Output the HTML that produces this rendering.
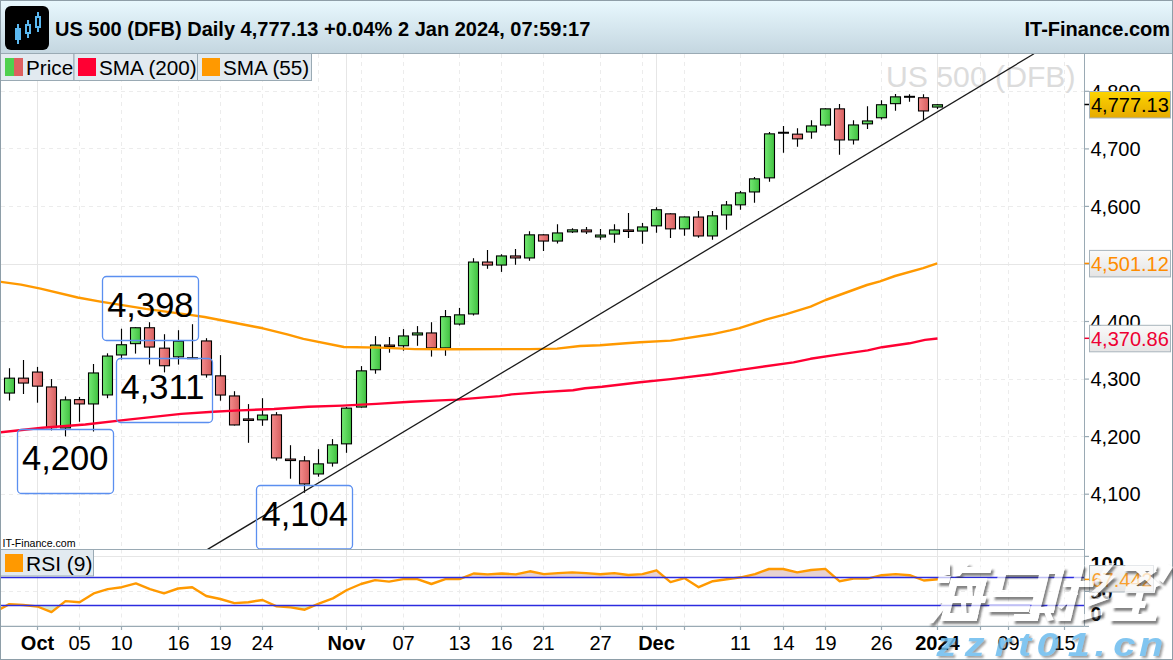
<!DOCTYPE html>
<html><head><meta charset="utf-8"><style>
html,body{margin:0;padding:0;background:#fff;width:1173px;height:660px;overflow:hidden}
svg{display:block}
text{font-family:"Liberation Sans",sans-serif}
</style></head><body>
<svg width="1173" height="660" viewBox="0 0 1173 660">
<defs>
<linearGradient id="gG" x1="0" x2="1" y1="0" y2="0"><stop offset="0" stop-color="#74ea74"/><stop offset="1" stop-color="#40c040"/></linearGradient>
<linearGradient id="gR" x1="0" x2="1" y1="0" y2="0"><stop offset="0" stop-color="#f58c8c"/><stop offset="1" stop-color="#d65f5f"/></linearGradient>
<linearGradient id="gH" x1="0" x2="0" y1="0" y2="1"><stop offset="0" stop-color="#e8f8fe"/><stop offset="1" stop-color="#c4d6e0"/></linearGradient>
<linearGradient id="gY" x1="0" x2="0" y1="0" y2="1"><stop offset="0" stop-color="#fcd400"/><stop offset="1" stop-color="#e6aa00"/></linearGradient>
<linearGradient id="gW" x1="0" x2="0" y1="0" y2="1"><stop offset="0" stop-color="#fafafa"/><stop offset="1" stop-color="#e4e4e4"/></linearGradient>
<clipPath id="cMain"><rect x="1" y="54" width="1083.5" height="495.5"/></clipPath>
<clipPath id="cRsi"><rect x="1" y="549.5" width="1083.5" height="77"/></clipPath>
<filter id="sh" x="-10%" y="-10%" width="130%" height="150%"><feDropShadow dx="2" dy="2.5" stdDeviation="1.2" flood-color="#333" flood-opacity="0.7"/></filter>
<filter id="shOnly" x="-10%" y="-10%" width="130%" height="150%"><feGaussianBlur in="SourceAlpha" stdDeviation="1.1"/><feOffset dx="2" dy="2.5" result="o"/><feFlood flood-color="#303030" flood-opacity="0.6"/><feComposite in2="o" operator="in" result="s"/><feComposite in="s" in2="SourceAlpha" operator="out"/></filter>
<filter id="sh2" x="-10%" y="-10%" width="130%" height="150%"><feDropShadow dx="2" dy="2" stdDeviation="0.8" flood-color="#444" flood-opacity="0.6"/></filter>
</defs>
<rect x="0" y="0" width="1173" height="660" fill="#fff"/>
<g clip-path="url(#cMain)">
<line x1="37.5" y1="54" x2="37.5" y2="626.4" stroke="#e6e6e6" stroke-width="1"/>
<line x1="79.5" y1="54" x2="79.5" y2="626.4" stroke="#ececec" stroke-width="1" stroke-dasharray="4 4"/>
<line x1="121.5" y1="54" x2="121.5" y2="626.4" stroke="#ececec" stroke-width="1" stroke-dasharray="4 4"/>
<line x1="178.5" y1="54" x2="178.5" y2="626.4" stroke="#ececec" stroke-width="1" stroke-dasharray="4 4"/>
<line x1="220.5" y1="54" x2="220.5" y2="626.4" stroke="#ececec" stroke-width="1" stroke-dasharray="4 4"/>
<line x1="262.5" y1="54" x2="262.5" y2="626.4" stroke="#ececec" stroke-width="1" stroke-dasharray="4 4"/>
<line x1="318.5" y1="54" x2="318.5" y2="626.4" stroke="#ececec" stroke-width="1" stroke-dasharray="4 4"/>
<line x1="346.5" y1="54" x2="346.5" y2="626.4" stroke="#e6e6e6" stroke-width="1"/>
<line x1="361.5" y1="54" x2="361.5" y2="626.4" stroke="#ececec" stroke-width="1" stroke-dasharray="4 4"/>
<line x1="403.5" y1="54" x2="403.5" y2="626.4" stroke="#ececec" stroke-width="1" stroke-dasharray="4 4"/>
<line x1="459.5" y1="54" x2="459.5" y2="626.4" stroke="#ececec" stroke-width="1" stroke-dasharray="4 4"/>
<line x1="501.5" y1="54" x2="501.5" y2="626.4" stroke="#ececec" stroke-width="1" stroke-dasharray="4 4"/>
<line x1="543.5" y1="54" x2="543.5" y2="626.4" stroke="#ececec" stroke-width="1" stroke-dasharray="4 4"/>
<line x1="600.5" y1="54" x2="600.5" y2="626.4" stroke="#ececec" stroke-width="1" stroke-dasharray="4 4"/>
<line x1="642.5" y1="54" x2="642.5" y2="626.4" stroke="#ececec" stroke-width="1" stroke-dasharray="4 4"/>
<line x1="656.5" y1="54" x2="656.5" y2="626.4" stroke="#e6e6e6" stroke-width="1"/>
<line x1="684.5" y1="54" x2="684.5" y2="626.4" stroke="#ececec" stroke-width="1" stroke-dasharray="4 4"/>
<line x1="740.5" y1="54" x2="740.5" y2="626.4" stroke="#ececec" stroke-width="1" stroke-dasharray="4 4"/>
<line x1="783.5" y1="54" x2="783.5" y2="626.4" stroke="#ececec" stroke-width="1" stroke-dasharray="4 4"/>
<line x1="825.5" y1="54" x2="825.5" y2="626.4" stroke="#ececec" stroke-width="1" stroke-dasharray="4 4"/>
<line x1="881.5" y1="54" x2="881.5" y2="626.4" stroke="#ececec" stroke-width="1" stroke-dasharray="4 4"/>
<line x1="937.5" y1="54" x2="937.5" y2="626.4" stroke="#e6e6e6" stroke-width="1"/>
<line x1="980.5" y1="54" x2="980.5" y2="626.4" stroke="#ececec" stroke-width="1" stroke-dasharray="4 4"/>
<line x1="1008.5" y1="54" x2="1008.5" y2="626.4" stroke="#ececec" stroke-width="1" stroke-dasharray="4 4"/>
<line x1="1064.5" y1="54" x2="1064.5" y2="626.4" stroke="#ececec" stroke-width="1" stroke-dasharray="4 4"/>
<line x1="1" y1="494.5" x2="1084.5" y2="494.5" stroke="#ececec" stroke-width="1" stroke-dasharray="4 4"/>
<line x1="1" y1="436.5" x2="1084.5" y2="436.5" stroke="#ececec" stroke-width="1" stroke-dasharray="4 4"/>
<line x1="1" y1="379.5" x2="1084.5" y2="379.5" stroke="#ececec" stroke-width="1" stroke-dasharray="4 4"/>
<line x1="1" y1="321.5" x2="1084.5" y2="321.5" stroke="#ececec" stroke-width="1" stroke-dasharray="4 4"/>
<line x1="1" y1="264.5" x2="1084.5" y2="264.5" stroke="#e6e6e6" stroke-width="1"/>
<line x1="1" y1="206.5" x2="1084.5" y2="206.5" stroke="#ececec" stroke-width="1" stroke-dasharray="4 4"/>
<line x1="1" y1="148.5" x2="1084.5" y2="148.5" stroke="#ececec" stroke-width="1" stroke-dasharray="4 4"/>
<line x1="1" y1="91.5" x2="1084.5" y2="91.5" stroke="#ececec" stroke-width="1" stroke-dasharray="4 4"/>
<text x="886" y="86.5" font-family="Liberation Sans" font-size="30.2" fill="#dcdcdc">US 500 (DFB)</text>
<line x1="9.5" y1="368.2" x2="9.5" y2="400.5" stroke="#000" stroke-width="1.15"/>
<rect x="4.5" y="378.15" width="10" height="14.90" fill="url(#gG)" stroke="#000" stroke-width="1.1"/>
<line x1="23.5" y1="360.0" x2="23.5" y2="394.0" stroke="#000" stroke-width="1.15"/>
<rect x="18.5" y="378.15" width="10" height="4.90" fill="url(#gR)" stroke="#000" stroke-width="1.1"/>
<line x1="37.5" y1="366.9" x2="37.5" y2="402.7" stroke="#000" stroke-width="1.15"/>
<rect x="32.5" y="372.05" width="10" height="14.10" fill="url(#gR)" stroke="#000" stroke-width="1.1"/>
<line x1="51.5" y1="379.1" x2="51.5" y2="430.4" stroke="#000" stroke-width="1.15"/>
<rect x="46.5" y="386.95" width="10" height="40.70" fill="url(#gR)" stroke="#000" stroke-width="1.1"/>
<line x1="65.5" y1="396.4" x2="65.5" y2="436.4" stroke="#000" stroke-width="1.15"/>
<rect x="60.5" y="399.85" width="10" height="28.10" fill="url(#gG)" stroke="#000" stroke-width="1.1"/>
<line x1="79.5" y1="396.9" x2="79.5" y2="421.8" stroke="#000" stroke-width="1.15"/>
<rect x="74.5" y="399.65" width="10" height="4.30" fill="url(#gR)" stroke="#000" stroke-width="1.1"/>
<line x1="93.5" y1="364.0" x2="93.5" y2="431.5" stroke="#000" stroke-width="1.15"/>
<rect x="88.5" y="372.95" width="10" height="31.00" fill="url(#gG)" stroke="#000" stroke-width="1.1"/>
<line x1="107.5" y1="353.3" x2="107.5" y2="398.2" stroke="#000" stroke-width="1.15"/>
<rect x="102.5" y="356.05" width="10" height="38.90" fill="url(#gG)" stroke="#000" stroke-width="1.1"/>
<line x1="121.5" y1="328.7" x2="121.5" y2="359.5" stroke="#000" stroke-width="1.15"/>
<rect x="116.5" y="344.75" width="10" height="10.20" fill="url(#gG)" stroke="#000" stroke-width="1.1"/>
<line x1="135.5" y1="327.2" x2="135.5" y2="353.6" stroke="#000" stroke-width="1.15"/>
<rect x="130.5" y="327.75" width="10" height="15.90" fill="url(#gG)" stroke="#000" stroke-width="1.1"/>
<line x1="149.5" y1="322.2" x2="149.5" y2="364.5" stroke="#000" stroke-width="1.15"/>
<rect x="144.5" y="327.75" width="10" height="19.30" fill="url(#gR)" stroke="#000" stroke-width="1.1"/>
<line x1="164.5" y1="334.2" x2="164.5" y2="372.4" stroke="#000" stroke-width="1.15"/>
<rect x="159.5" y="348.15" width="10" height="17.60" fill="url(#gR)" stroke="#000" stroke-width="1.1"/>
<line x1="178.5" y1="330.2" x2="178.5" y2="364.6" stroke="#000" stroke-width="1.15"/>
<rect x="173.5" y="341.15" width="10" height="15.70" fill="url(#gG)" stroke="#000" stroke-width="1.1"/>
<line x1="192.5" y1="324.2" x2="192.5" y2="358.8" stroke="#000" stroke-width="1.15"/>
<rect x="187" y="357.20" width="11" height="2" fill="#000"/>
<line x1="206.5" y1="338.2" x2="206.5" y2="377.6" stroke="#000" stroke-width="1.15"/>
<rect x="201.5" y="340.95" width="10" height="33.90" fill="url(#gR)" stroke="#000" stroke-width="1.1"/>
<line x1="220.5" y1="355.1" x2="220.5" y2="400.7" stroke="#000" stroke-width="1.15"/>
<rect x="215.5" y="375.85" width="10" height="19.20" fill="url(#gR)" stroke="#000" stroke-width="1.1"/>
<line x1="234.5" y1="391.2" x2="234.5" y2="425.5" stroke="#000" stroke-width="1.15"/>
<rect x="229.5" y="395.95" width="10" height="29.00" fill="url(#gR)" stroke="#000" stroke-width="1.1"/>
<line x1="248.5" y1="404.1" x2="248.5" y2="442.8" stroke="#000" stroke-width="1.15"/>
<rect x="243.5" y="418.95" width="10" height="1.50" fill="url(#gR)" stroke="#000" stroke-width="1.1"/>
<line x1="262.5" y1="398.2" x2="262.5" y2="425.8" stroke="#000" stroke-width="1.15"/>
<rect x="257.5" y="415.05" width="10" height="4.80" fill="url(#gG)" stroke="#000" stroke-width="1.1"/>
<line x1="276.5" y1="412.1" x2="276.5" y2="460.5" stroke="#000" stroke-width="1.15"/>
<rect x="271.5" y="414.85" width="10" height="43.10" fill="url(#gR)" stroke="#000" stroke-width="1.1"/>
<line x1="290.5" y1="445.2" x2="290.5" y2="478.7" stroke="#000" stroke-width="1.15"/>
<rect x="285.5" y="459.05" width="10" height="1.50" fill="url(#gR)" stroke="#000" stroke-width="1.1"/>
<line x1="304.5" y1="456.1" x2="304.5" y2="492.8" stroke="#000" stroke-width="1.15"/>
<rect x="299.5" y="460.85" width="10" height="23.10" fill="url(#gR)" stroke="#000" stroke-width="1.1"/>
<line x1="318.5" y1="449.2" x2="318.5" y2="476.7" stroke="#000" stroke-width="1.15"/>
<rect x="313.5" y="463.85" width="10" height="10.10" fill="url(#gG)" stroke="#000" stroke-width="1.1"/>
<line x1="332.5" y1="439.1" x2="332.5" y2="466.6" stroke="#000" stroke-width="1.15"/>
<rect x="327.5" y="444.85" width="10" height="18.20" fill="url(#gG)" stroke="#000" stroke-width="1.1"/>
<line x1="346.5" y1="407.0" x2="346.5" y2="452.8" stroke="#000" stroke-width="1.15"/>
<rect x="341.5" y="408.15" width="10" height="35.70" fill="url(#gG)" stroke="#000" stroke-width="1.1"/>
<line x1="361.5" y1="366.1" x2="361.5" y2="407.6" stroke="#000" stroke-width="1.15"/>
<rect x="356.5" y="370.85" width="10" height="36.20" fill="url(#gG)" stroke="#000" stroke-width="1.1"/>
<line x1="375.5" y1="336.1" x2="375.5" y2="373.7" stroke="#000" stroke-width="1.15"/>
<rect x="370.5" y="345.05" width="10" height="24.70" fill="url(#gG)" stroke="#000" stroke-width="1.1"/>
<line x1="389.5" y1="337.0" x2="389.5" y2="352.7" stroke="#000" stroke-width="1.15"/>
<rect x="384.5" y="345.05" width="10" height="1.50" fill="url(#gR)" stroke="#000" stroke-width="1.1"/>
<line x1="403.5" y1="329.1" x2="403.5" y2="350.7" stroke="#000" stroke-width="1.15"/>
<rect x="398.5" y="335.95" width="10" height="9.80" fill="url(#gG)" stroke="#000" stroke-width="1.1"/>
<line x1="417.5" y1="326.1" x2="417.5" y2="345.8" stroke="#000" stroke-width="1.15"/>
<rect x="412.5" y="332.95" width="10" height="2.00" fill="url(#gG)" stroke="#000" stroke-width="1.1"/>
<line x1="431.5" y1="322.2" x2="431.5" y2="356.6" stroke="#000" stroke-width="1.15"/>
<rect x="426.5" y="332.95" width="10" height="15.00" fill="url(#gR)" stroke="#000" stroke-width="1.1"/>
<line x1="445.5" y1="310.0" x2="445.5" y2="355.8" stroke="#000" stroke-width="1.15"/>
<rect x="440.5" y="316.65" width="10" height="31.30" fill="url(#gG)" stroke="#000" stroke-width="1.1"/>
<line x1="459.5" y1="307.9" x2="459.5" y2="325.5" stroke="#000" stroke-width="1.15"/>
<rect x="454.5" y="314.85" width="10" height="9.20" fill="url(#gG)" stroke="#000" stroke-width="1.1"/>
<line x1="473.5" y1="258.2" x2="473.5" y2="315.5" stroke="#000" stroke-width="1.15"/>
<rect x="468.5" y="262.05" width="10" height="51.90" fill="url(#gG)" stroke="#000" stroke-width="1.1"/>
<line x1="487.5" y1="250.1" x2="487.5" y2="268.8" stroke="#000" stroke-width="1.15"/>
<rect x="482.5" y="262.05" width="10" height="3.00" fill="url(#gR)" stroke="#000" stroke-width="1.1"/>
<line x1="501.5" y1="254.2" x2="501.5" y2="271.9" stroke="#000" stroke-width="1.15"/>
<rect x="496.5" y="255.95" width="10" height="9.10" fill="url(#gG)" stroke="#000" stroke-width="1.1"/>
<line x1="515.5" y1="249.1" x2="515.5" y2="264.8" stroke="#000" stroke-width="1.15"/>
<rect x="510.5" y="255.95" width="10" height="2.00" fill="url(#gR)" stroke="#000" stroke-width="1.1"/>
<line x1="529.5" y1="231.2" x2="529.5" y2="260.8" stroke="#000" stroke-width="1.15"/>
<rect x="524.5" y="234.85" width="10" height="23.10" fill="url(#gG)" stroke="#000" stroke-width="1.1"/>
<line x1="543.5" y1="234.3" x2="543.5" y2="250.9" stroke="#000" stroke-width="1.15"/>
<rect x="538.5" y="234.85" width="10" height="6.20" fill="url(#gR)" stroke="#000" stroke-width="1.1"/>
<line x1="557.5" y1="224.2" x2="557.5" y2="243.6" stroke="#000" stroke-width="1.15"/>
<rect x="552.5" y="232.95" width="10" height="8.10" fill="url(#gG)" stroke="#000" stroke-width="1.1"/>
<line x1="572.5" y1="228.2" x2="572.5" y2="233.0" stroke="#000" stroke-width="1.15"/>
<rect x="567.5" y="229.85" width="10" height="2.00" fill="url(#gG)" stroke="#000" stroke-width="1.1"/>
<line x1="586.5" y1="227.0" x2="586.5" y2="233.9" stroke="#000" stroke-width="1.15"/>
<rect x="581.5" y="229.95" width="10" height="1.90" fill="url(#gR)" stroke="#000" stroke-width="1.1"/>
<line x1="600.5" y1="229.0" x2="600.5" y2="239.7" stroke="#000" stroke-width="1.15"/>
<rect x="595.5" y="235.05" width="10" height="1.90" fill="url(#gG)" stroke="#000" stroke-width="1.1"/>
<line x1="614.5" y1="224.2" x2="614.5" y2="242.7" stroke="#000" stroke-width="1.15"/>
<rect x="609.5" y="229.95" width="10" height="4.10" fill="url(#gG)" stroke="#000" stroke-width="1.1"/>
<line x1="628.5" y1="213.0" x2="628.5" y2="237.9" stroke="#000" stroke-width="1.15"/>
<rect x="623.5" y="229.95" width="10" height="1.50" fill="url(#gR)" stroke="#000" stroke-width="1.1"/>
<line x1="642.5" y1="223.0" x2="642.5" y2="243.7" stroke="#000" stroke-width="1.15"/>
<rect x="637.5" y="226.95" width="10" height="4.10" fill="url(#gG)" stroke="#000" stroke-width="1.1"/>
<line x1="656.5" y1="207.2" x2="656.5" y2="232.7" stroke="#000" stroke-width="1.15"/>
<rect x="651.5" y="209.75" width="10" height="16.10" fill="url(#gG)" stroke="#000" stroke-width="1.1"/>
<line x1="670.5" y1="213.3" x2="670.5" y2="237.9" stroke="#000" stroke-width="1.15"/>
<rect x="665.5" y="213.85" width="10" height="15.00" fill="url(#gR)" stroke="#000" stroke-width="1.1"/>
<line x1="684.5" y1="216.4" x2="684.5" y2="235.8" stroke="#000" stroke-width="1.15"/>
<rect x="679.5" y="216.95" width="10" height="11.90" fill="url(#gG)" stroke="#000" stroke-width="1.1"/>
<line x1="698.5" y1="211.1" x2="698.5" y2="237.7" stroke="#000" stroke-width="1.15"/>
<rect x="693.5" y="217.05" width="10" height="18.90" fill="url(#gR)" stroke="#000" stroke-width="1.1"/>
<line x1="712.5" y1="211.1" x2="712.5" y2="239.8" stroke="#000" stroke-width="1.15"/>
<rect x="707.5" y="215.85" width="10" height="20.10" fill="url(#gG)" stroke="#000" stroke-width="1.1"/>
<line x1="726.5" y1="201.1" x2="726.5" y2="229.8" stroke="#000" stroke-width="1.15"/>
<rect x="721.5" y="204.95" width="10" height="10.00" fill="url(#gG)" stroke="#000" stroke-width="1.1"/>
<line x1="740.5" y1="191.1" x2="740.5" y2="209.8" stroke="#000" stroke-width="1.15"/>
<rect x="735.5" y="192.85" width="10" height="12.00" fill="url(#gG)" stroke="#000" stroke-width="1.1"/>
<line x1="754.5" y1="177.1" x2="754.5" y2="202.8" stroke="#000" stroke-width="1.15"/>
<rect x="749.5" y="178.85" width="10" height="13.10" fill="url(#gG)" stroke="#000" stroke-width="1.1"/>
<line x1="769.5" y1="132.1" x2="769.5" y2="181.8" stroke="#000" stroke-width="1.15"/>
<rect x="764.5" y="133.85" width="10" height="44.00" fill="url(#gG)" stroke="#000" stroke-width="1.1"/>
<line x1="783.5" y1="126.1" x2="783.5" y2="152.7" stroke="#000" stroke-width="1.15"/>
<rect x="778" y="131.75" width="11" height="2" fill="#000"/>
<line x1="797.5" y1="128.2" x2="797.5" y2="146.7" stroke="#000" stroke-width="1.15"/>
<rect x="792.5" y="134.15" width="10" height="4.70" fill="url(#gR)" stroke="#000" stroke-width="1.1"/>
<line x1="811.5" y1="120.2" x2="811.5" y2="138.7" stroke="#000" stroke-width="1.15"/>
<rect x="806.5" y="125.95" width="10" height="6.00" fill="url(#gG)" stroke="#000" stroke-width="1.1"/>
<line x1="825.5" y1="108.3" x2="825.5" y2="126.6" stroke="#000" stroke-width="1.15"/>
<rect x="820.5" y="108.85" width="10" height="16.20" fill="url(#gG)" stroke="#000" stroke-width="1.1"/>
<line x1="839.5" y1="104.0" x2="839.5" y2="154.7" stroke="#000" stroke-width="1.15"/>
<rect x="834.5" y="108.85" width="10" height="31.10" fill="url(#gR)" stroke="#000" stroke-width="1.1"/>
<line x1="853.5" y1="120.2" x2="853.5" y2="144.6" stroke="#000" stroke-width="1.15"/>
<rect x="848.5" y="124.95" width="10" height="15.00" fill="url(#gG)" stroke="#000" stroke-width="1.1"/>
<line x1="867.5" y1="106.2" x2="867.5" y2="128.9" stroke="#000" stroke-width="1.15"/>
<rect x="862.5" y="120.95" width="10" height="2.90" fill="url(#gG)" stroke="#000" stroke-width="1.1"/>
<line x1="881.5" y1="100.2" x2="881.5" y2="119.5" stroke="#000" stroke-width="1.15"/>
<rect x="876.5" y="104.75" width="10" height="13.00" fill="url(#gG)" stroke="#000" stroke-width="1.1"/>
<line x1="895.5" y1="94.1" x2="895.5" y2="110.8" stroke="#000" stroke-width="1.15"/>
<rect x="890.5" y="96.85" width="10" height="6.80" fill="url(#gG)" stroke="#000" stroke-width="1.1"/>
<line x1="909.5" y1="94.3" x2="909.5" y2="101.8" stroke="#000" stroke-width="1.15"/>
<rect x="904" y="95.80" width="11" height="2" fill="#000"/>
<line x1="923.5" y1="94.3" x2="923.5" y2="120.2" stroke="#000" stroke-width="1.15"/>
<rect x="918.5" y="97.75" width="10" height="13.20" fill="url(#gR)" stroke="#000" stroke-width="1.1"/>
<line x1="937.5" y1="104.2" x2="937.5" y2="109.1" stroke="#000" stroke-width="1.15"/>
<rect x="932.5" y="104.75" width="10" height="2.30" fill="url(#gG)" stroke="#000" stroke-width="1.1"/>
<polyline points="0.0,281.7 21.0,284.6 40.5,288.6 77.7,297.5 100.4,301.6 145.8,308.9 175.0,312.9 190.0,314.9 204.6,317.0 254.8,326.7 262.9,328.3 287.2,334.3 303.4,338.9 343.9,347.0 380.0,347.6 415.0,349.1 450.0,349.2 530.0,349.1 557.0,348.6 580.0,346.0 600.0,345.3 626.0,343.2 640.0,342.3 670.7,340.6 711.6,334.3 730.0,330.4 739.4,328.1 767.5,319.1 786.3,314.1 810.6,306.6 825.6,300.0 866.9,285.0 880.0,281.3 895.0,276.0 923.2,268.1 937.2,263.4" fill="none" stroke="#ff9900" stroke-width="2.4" stroke-linejoin="round"/>
<polyline points="0.0,432.4 42.6,427.7 85.3,424.5 127.9,419.6 181.2,413.9 213.1,411.7 240.0,410.4 274.0,409.0 308.0,406.8 342.3,405.6 376.4,403.9 410.5,401.7 440.0,400.4 457.0,399.6 499.7,396.1 511.6,394.4 542.3,392.1 573.0,390.3 585.0,388.3 602.0,386.8 619.0,384.7 640.0,382.2 670.7,379.1 711.6,374.3 742.3,369.6 793.5,362.4 810.5,358.8 837.9,354.6 867.7,350.4 882.0,347.2 909.5,343.3 925.0,339.9 937.5,338.5" fill="none" stroke="#ff0033" stroke-width="2.4" stroke-linejoin="round"/>
<line x1="207.6" y1="549.4" x2="1034" y2="53.8" stroke="#1a1a1a" stroke-width="1.3"/>
<rect x="102.5" y="276.5" width="96.0" height="64.0" rx="4" fill="none" stroke="#5b8ff0" stroke-width="1.3"/>
<text x="107.2" y="316.5" font-family="Liberation Sans" font-size="34.5" fill="#000">4,398</text>
<rect x="116.5" y="358.5" width="96.0" height="64.0" rx="4" fill="none" stroke="#5b8ff0" stroke-width="1.3"/>
<text x="120.6" y="398.8" font-family="Liberation Sans" font-size="34.5" fill="#000">4,311</text>
<rect x="17.5" y="429.5" width="96.0" height="64.0" rx="4" fill="none" stroke="#5b8ff0" stroke-width="1.3"/>
<text x="22" y="470" font-family="Liberation Sans" font-size="34.5" fill="#000">4,200</text>
<rect x="256.5" y="485.5" width="96.0" height="63.5" rx="4" fill="none" stroke="#5b8ff0" stroke-width="1.3"/>
<text x="261.5" y="526" font-family="Liberation Sans" font-size="34.5" fill="#000">4,104</text>
</g>
<g clip-path="url(#cRsi)">
<line x1="37.5" y1="549.5" x2="37.5" y2="626.4" stroke="#e6e6e6" stroke-width="1"/>
<line x1="79.5" y1="549.5" x2="79.5" y2="626.4" stroke="#ececec" stroke-width="1" stroke-dasharray="4 4"/>
<line x1="121.5" y1="549.5" x2="121.5" y2="626.4" stroke="#ececec" stroke-width="1" stroke-dasharray="4 4"/>
<line x1="178.5" y1="549.5" x2="178.5" y2="626.4" stroke="#ececec" stroke-width="1" stroke-dasharray="4 4"/>
<line x1="220.5" y1="549.5" x2="220.5" y2="626.4" stroke="#ececec" stroke-width="1" stroke-dasharray="4 4"/>
<line x1="262.5" y1="549.5" x2="262.5" y2="626.4" stroke="#ececec" stroke-width="1" stroke-dasharray="4 4"/>
<line x1="318.5" y1="549.5" x2="318.5" y2="626.4" stroke="#ececec" stroke-width="1" stroke-dasharray="4 4"/>
<line x1="346.5" y1="549.5" x2="346.5" y2="626.4" stroke="#e6e6e6" stroke-width="1"/>
<line x1="361.5" y1="549.5" x2="361.5" y2="626.4" stroke="#ececec" stroke-width="1" stroke-dasharray="4 4"/>
<line x1="403.5" y1="549.5" x2="403.5" y2="626.4" stroke="#ececec" stroke-width="1" stroke-dasharray="4 4"/>
<line x1="459.5" y1="549.5" x2="459.5" y2="626.4" stroke="#ececec" stroke-width="1" stroke-dasharray="4 4"/>
<line x1="501.5" y1="549.5" x2="501.5" y2="626.4" stroke="#ececec" stroke-width="1" stroke-dasharray="4 4"/>
<line x1="543.5" y1="549.5" x2="543.5" y2="626.4" stroke="#ececec" stroke-width="1" stroke-dasharray="4 4"/>
<line x1="600.5" y1="549.5" x2="600.5" y2="626.4" stroke="#ececec" stroke-width="1" stroke-dasharray="4 4"/>
<line x1="642.5" y1="549.5" x2="642.5" y2="626.4" stroke="#ececec" stroke-width="1" stroke-dasharray="4 4"/>
<line x1="656.5" y1="549.5" x2="656.5" y2="626.4" stroke="#e6e6e6" stroke-width="1"/>
<line x1="684.5" y1="549.5" x2="684.5" y2="626.4" stroke="#ececec" stroke-width="1" stroke-dasharray="4 4"/>
<line x1="740.5" y1="549.5" x2="740.5" y2="626.4" stroke="#ececec" stroke-width="1" stroke-dasharray="4 4"/>
<line x1="783.5" y1="549.5" x2="783.5" y2="626.4" stroke="#ececec" stroke-width="1" stroke-dasharray="4 4"/>
<line x1="825.5" y1="549.5" x2="825.5" y2="626.4" stroke="#ececec" stroke-width="1" stroke-dasharray="4 4"/>
<line x1="881.5" y1="549.5" x2="881.5" y2="626.4" stroke="#ececec" stroke-width="1" stroke-dasharray="4 4"/>
<line x1="937.5" y1="549.5" x2="937.5" y2="626.4" stroke="#e6e6e6" stroke-width="1"/>
<line x1="980.5" y1="549.5" x2="980.5" y2="626.4" stroke="#ececec" stroke-width="1" stroke-dasharray="4 4"/>
<line x1="1008.5" y1="549.5" x2="1008.5" y2="626.4" stroke="#ececec" stroke-width="1" stroke-dasharray="4 4"/>
<line x1="1064.5" y1="549.5" x2="1064.5" y2="626.4" stroke="#ececec" stroke-width="1" stroke-dasharray="4 4"/>
<line x1="1" y1="556.5" x2="1084.5" y2="556.5" stroke="#e6e6e6" stroke-width="1"/>
<line x1="1" y1="591.5" x2="1084.5" y2="591.5" stroke="#ececec" stroke-width="1" stroke-dasharray="4 4"/>
<polygon points="463.8,577.4 473.6,573.5 487.6,574.4 501.7,573.5 515.8,574.4 529.9,571.3 543.9,574.1 558.0,573.1 572.1,572.4 586.1,573.1 600.2,574.3 614.3,573.1 628.3,575.0 642.4,574.1 656.5,570.3 664.9,577.4" fill="#e6d2d2"/>
<polygon points="740.2,577.4 740.9,577.3 755.0,574.1 769.0,569.0 783.1,569.0 797.2,572.4 811.2,570.0 825.3,568.9 835.0,577.4" fill="#e6d2d2"/>
<polygon points="872.5,577.4 881.6,575.2 895.7,574.1 909.7,575.2 915.6,577.4" fill="#e6d2d2"/>
<polygon points="0.0,609.1 6.9,605.4" fill="#d4ead8"/>
<polygon points="27.1,605.4 37.4,606.5 51.5,612.1 60.0,605.4" fill="#d4ead8"/>
<polygon points="274.6,605.4 276.6,606.3 290.7,607.4 304.7,609.7 314.8,605.4" fill="#d4ead8"/>
<polyline points="0.0,609.1 9.3,604.1 23.3,605.0 37.4,606.5 51.5,612.1 65.5,601.1 79.6,602.2 93.7,593.4 107.8,589.1 121.8,587.2 135.9,583.4 150.0,589.1 164.0,593.4 178.1,588.5 192.2,587.2 206.2,596.0 220.3,599.0 234.4,603.1 248.4,602.2 262.5,600.0 276.6,606.3 290.7,607.4 304.7,609.7 318.8,603.7 332.9,598.4 346.9,590.0 361.0,584.0 375.1,580.1 389.1,581.6 403.2,579.1 417.3,579.1 431.4,584.0 445.4,579.1 459.5,579.1 473.6,573.5 487.6,574.4 501.7,573.5 515.8,574.4 529.9,571.3 543.9,574.1 558.0,573.1 572.1,572.4 586.1,573.1 600.2,574.3 614.3,573.1 628.3,575.0 642.4,574.1 656.5,570.3 670.5,582.1 684.6,578.2 698.7,587.2 712.8,581.2 726.8,579.3 740.9,577.3 755.0,574.1 769.0,569.0 783.1,569.0 797.2,572.4 811.2,570.0 825.3,568.9 839.4,581.2 853.5,578.6 867.5,578.6 881.6,575.2 895.7,574.1 909.7,575.2 923.8,580.5 937.9,579.3" fill="none" stroke="#ff9900" stroke-width="2.4" stroke-linejoin="round"/>
<line x1="1" y1="577.5" x2="1084.5" y2="577.5" stroke="#2c2ce0" stroke-width="1.3"/>
<line x1="1" y1="605.5" x2="1084.5" y2="605.5" stroke="#2c2ce0" stroke-width="1.3"/>
</g>
<line x1="1084.5" y1="54" x2="1084.5" y2="626.4" stroke="#9aaab4" stroke-width="1"/>
<line x1="1" y1="549.5" x2="1084.5" y2="549.5" stroke="#9aaab4" stroke-width="1"/>
<line x1="1" y1="626.4" x2="1084.5" y2="626.4" stroke="#9aaab4" stroke-width="1.2"/>
<line x1="1084.5" y1="494.2" x2="1089" y2="494.2" stroke="#9aaab4" stroke-width="1.2"/>
<text x="1090.5" y="501.4" font-family="Liberation Sans" font-size="20" fill="#000">4,100</text>
<line x1="1084.5" y1="436.6" x2="1089" y2="436.6" stroke="#9aaab4" stroke-width="1.2"/>
<text x="1090.5" y="443.8" font-family="Liberation Sans" font-size="20" fill="#000">4,200</text>
<line x1="1084.5" y1="379.1" x2="1089" y2="379.1" stroke="#9aaab4" stroke-width="1.2"/>
<text x="1090.5" y="386.3" font-family="Liberation Sans" font-size="20" fill="#000">4,300</text>
<line x1="1084.5" y1="321.5" x2="1089" y2="321.5" stroke="#9aaab4" stroke-width="1.2"/>
<text x="1090.5" y="328.7" font-family="Liberation Sans" font-size="20" fill="#000">4,400</text>
<line x1="1084.5" y1="264.0" x2="1089" y2="264.0" stroke="#9aaab4" stroke-width="1.2"/>
<text x="1090.5" y="271.2" font-family="Liberation Sans" font-size="20" fill="#000">4,500</text>
<line x1="1084.5" y1="206.4" x2="1089" y2="206.4" stroke="#9aaab4" stroke-width="1.2"/>
<text x="1090.5" y="213.6" font-family="Liberation Sans" font-size="20" fill="#000">4,600</text>
<line x1="1084.5" y1="148.9" x2="1089" y2="148.9" stroke="#9aaab4" stroke-width="1.2"/>
<text x="1090.5" y="156.1" font-family="Liberation Sans" font-size="20" fill="#000">4,700</text>
<line x1="1084.5" y1="91.3" x2="1089" y2="91.3" stroke="#9aaab4" stroke-width="1.2"/>
<text x="1090.5" y="98.5" font-family="Liberation Sans" font-size="20" fill="#000">4,800</text>
<line x1="1084.5" y1="556.4" x2="1089" y2="556.4" stroke="#9aaab4" stroke-width="1.2"/>
<text x="1090.5" y="571.2" font-family="Liberation Sans" font-size="20" font-weight="bold" fill="#000">100</text>
<line x1="1084.5" y1="591.4" x2="1089" y2="591.4" stroke="#9aaab4" stroke-width="1.2"/>
<text x="1090.5" y="598.5" font-family="Liberation Sans" font-size="20" font-weight="bold" fill="#000">50</text>
<line x1="1084.5" y1="626.4" x2="1089" y2="626.4" stroke="#9aaab4" stroke-width="1.2"/>
<text x="1090.5" y="621.3" font-family="Liberation Sans" font-size="20" font-weight="bold" fill="#000">0</text>
<line x1="37.5" y1="626.4" x2="37.5" y2="630" stroke="#9aaab4" stroke-width="1.2"/>
<text x="37.5" y="649.8" text-anchor="middle" font-family="Liberation Sans" font-size="20" font-weight="bold" fill="#000">Oct</text>
<line x1="79.5" y1="626.4" x2="79.5" y2="630" stroke="#9aaab4" stroke-width="1.2"/>
<text x="79.5" y="649.8" text-anchor="middle" font-family="Liberation Sans" font-size="20" fill="#000">05</text>
<line x1="121.5" y1="626.4" x2="121.5" y2="630" stroke="#9aaab4" stroke-width="1.2"/>
<text x="121.5" y="649.8" text-anchor="middle" font-family="Liberation Sans" font-size="20" fill="#000">10</text>
<line x1="178.5" y1="626.4" x2="178.5" y2="630" stroke="#9aaab4" stroke-width="1.2"/>
<text x="178.5" y="649.8" text-anchor="middle" font-family="Liberation Sans" font-size="20" fill="#000">16</text>
<line x1="220.5" y1="626.4" x2="220.5" y2="630" stroke="#9aaab4" stroke-width="1.2"/>
<text x="220.5" y="649.8" text-anchor="middle" font-family="Liberation Sans" font-size="20" fill="#000">19</text>
<line x1="262.5" y1="626.4" x2="262.5" y2="630" stroke="#9aaab4" stroke-width="1.2"/>
<text x="262.5" y="649.8" text-anchor="middle" font-family="Liberation Sans" font-size="20" fill="#000">24</text>
<line x1="318.5" y1="626.4" x2="318.5" y2="630" stroke="#9aaab4" stroke-width="1.2"/>
<line x1="346.5" y1="626.4" x2="346.5" y2="630" stroke="#9aaab4" stroke-width="1.2"/>
<text x="346.5" y="649.8" text-anchor="middle" font-family="Liberation Sans" font-size="20" font-weight="bold" fill="#000">Nov</text>
<line x1="361.5" y1="626.4" x2="361.5" y2="630" stroke="#9aaab4" stroke-width="1.2"/>
<line x1="403.5" y1="626.4" x2="403.5" y2="630" stroke="#9aaab4" stroke-width="1.2"/>
<text x="403.5" y="649.8" text-anchor="middle" font-family="Liberation Sans" font-size="20" fill="#000">07</text>
<line x1="459.5" y1="626.4" x2="459.5" y2="630" stroke="#9aaab4" stroke-width="1.2"/>
<text x="459.5" y="649.8" text-anchor="middle" font-family="Liberation Sans" font-size="20" fill="#000">13</text>
<line x1="501.5" y1="626.4" x2="501.5" y2="630" stroke="#9aaab4" stroke-width="1.2"/>
<text x="501.5" y="649.8" text-anchor="middle" font-family="Liberation Sans" font-size="20" fill="#000">16</text>
<line x1="543.5" y1="626.4" x2="543.5" y2="630" stroke="#9aaab4" stroke-width="1.2"/>
<text x="543.5" y="649.8" text-anchor="middle" font-family="Liberation Sans" font-size="20" fill="#000">21</text>
<line x1="600.5" y1="626.4" x2="600.5" y2="630" stroke="#9aaab4" stroke-width="1.2"/>
<text x="600.5" y="649.8" text-anchor="middle" font-family="Liberation Sans" font-size="20" fill="#000">27</text>
<line x1="642.5" y1="626.4" x2="642.5" y2="630" stroke="#9aaab4" stroke-width="1.2"/>
<line x1="656.5" y1="626.4" x2="656.5" y2="630" stroke="#9aaab4" stroke-width="1.2"/>
<text x="656.5" y="649.8" text-anchor="middle" font-family="Liberation Sans" font-size="20" font-weight="bold" fill="#000">Dec</text>
<line x1="684.5" y1="626.4" x2="684.5" y2="630" stroke="#9aaab4" stroke-width="1.2"/>
<line x1="740.5" y1="626.4" x2="740.5" y2="630" stroke="#9aaab4" stroke-width="1.2"/>
<text x="740.5" y="649.8" text-anchor="middle" font-family="Liberation Sans" font-size="20" fill="#000">11</text>
<line x1="783.5" y1="626.4" x2="783.5" y2="630" stroke="#9aaab4" stroke-width="1.2"/>
<text x="783.5" y="649.8" text-anchor="middle" font-family="Liberation Sans" font-size="20" fill="#000">14</text>
<line x1="825.5" y1="626.4" x2="825.5" y2="630" stroke="#9aaab4" stroke-width="1.2"/>
<text x="825.5" y="649.8" text-anchor="middle" font-family="Liberation Sans" font-size="20" fill="#000">19</text>
<line x1="881.5" y1="626.4" x2="881.5" y2="630" stroke="#9aaab4" stroke-width="1.2"/>
<text x="881.5" y="649.8" text-anchor="middle" font-family="Liberation Sans" font-size="20" fill="#000">26</text>
<line x1="937.5" y1="626.4" x2="937.5" y2="630" stroke="#9aaab4" stroke-width="1.2"/>
<text x="937.5" y="649.8" text-anchor="middle" font-family="Liberation Sans" font-size="20" font-weight="bold" fill="#000">2024</text>
<line x1="980.5" y1="626.4" x2="980.5" y2="630" stroke="#9aaab4" stroke-width="1.2"/>
<line x1="1008.5" y1="626.4" x2="1008.5" y2="630" stroke="#9aaab4" stroke-width="1.2"/>
<text x="1008.5" y="649.8" text-anchor="middle" font-family="Liberation Sans" font-size="20" fill="#000">09</text>
<line x1="1064.5" y1="626.4" x2="1064.5" y2="630" stroke="#9aaab4" stroke-width="1.2"/>
<text x="1064.5" y="649.8" text-anchor="middle" font-family="Liberation Sans" font-size="20" fill="#000">15</text>
<line x1="1084.5" y1="104.5" x2="1089" y2="104.5" stroke="#000" stroke-width="1.5"/>
<rect x="1089.5" y="91.5" width="81" height="26.5" fill="url(#gY)" stroke="#a8b4bc" stroke-width="1"/>
<text x="1091" y="111.8" font-family="Liberation Sans" font-size="20" fill="#000">4,777.13</text>
<line x1="1084.5" y1="263.4" x2="1089" y2="263.4" stroke="#ff8c00" stroke-width="1.5"/>
<rect x="1089.5" y="250.4" width="81" height="26.5" fill="url(#gW)" stroke="#a8b4bc" stroke-width="1"/>
<text x="1091" y="270.7" font-family="Liberation Sans" font-size="20" fill="#ff8c00">4,501.12</text>
<line x1="1084.5" y1="338.3" x2="1089" y2="338.3" stroke="#ee0033" stroke-width="1.5"/>
<rect x="1089.5" y="325.3" width="81" height="26.5" fill="url(#gW)" stroke="#a8b4bc" stroke-width="1"/>
<text x="1091" y="345.6" font-family="Liberation Sans" font-size="20" fill="#ee0033">4,370.86</text>
<line x1="1084.5" y1="579.4" x2="1089" y2="579.4" stroke="#ff9900" stroke-width="1.5"/>
<rect x="1089.5" y="565.5" width="64" height="26.5" fill="url(#gW)" stroke="#a8b4bc" stroke-width="1"/>
<text x="1091.5" y="587" font-family="Liberation Sans" font-size="20" fill="#f8a030">67.442</text>
<rect x="0.5" y="0.5" width="1172" height="53" fill="url(#gH)" stroke="#9aaab4" stroke-width="1"/>
<rect x="5" y="6" width="44" height="44" rx="6" fill="#000"/>
<g fill="#5bb8f0"><rect x="17" y="24" width="2" height="20"/><rect x="15" y="28" width="6" height="12"/><rect x="27" y="20" width="2" height="4"/><rect x="27" y="34" width="2" height="4"/><rect x="37" y="12" width="2" height="4"/><rect x="37" y="28" width="2" height="4"/></g><rect x="26" y="25" width="4" height="8" fill="none" stroke="#5bb8f0" stroke-width="2"/><rect x="36" y="17" width="4" height="10" fill="none" stroke="#5bb8f0" stroke-width="2"/>
<text x="55" y="35.6" font-family="Liberation Sans" font-size="20" font-weight="bold" fill="#000">US 500 (DFB) Daily 4,777.13 +0.04% 2 Jan 2024, 07:59:17</text>
<text x="1024.5" y="35.7" font-family="Liberation Sans" font-size="20" font-weight="bold" fill="#000">IT-Finance.com</text>
<rect x="0.5" y="53.5" width="73.5" height="27" fill="#e2eaf0" stroke="#9aaab4" stroke-width="1"/>
<rect x="74" y="53.5" width="123.5" height="27" fill="#e2eaf0" stroke="#9aaab4" stroke-width="1"/>
<rect x="197.5" y="53.5" width="114" height="27" fill="#e2eaf0" stroke="#9aaab4" stroke-width="1"/>
<rect x="5" y="58" width="9" height="18" fill="#4fd04f"/><rect x="14" y="58" width="9" height="18" fill="#de6060"/>
<text x="26" y="75" font-family="Liberation Sans" font-size="20.7" fill="#000">Price</text>
<rect x="78" y="58" width="18" height="18" fill="#ff0033"/>
<text x="99" y="75" font-family="Liberation Sans" font-size="20.7" fill="#000">SMA (200)</text>
<rect x="202" y="58" width="18" height="18" fill="#ff9900"/>
<text x="223" y="75" font-family="Liberation Sans" font-size="20.7" fill="#000">SMA (55)</text>
<text x="2.5" y="546.7" font-family="Liberation Sans" font-size="10.6" fill="#000">IT-Finance.com</text>
<rect x="0.5" y="549.5" width="93" height="26.5" fill="#e2eaf0" stroke="#9aaab4" stroke-width="1"/>
<rect x="5" y="554" width="18" height="18" fill="#ff9900"/>
<text x="26" y="571" font-family="Liberation Sans" font-size="21" fill="#000">RSI (9)</text>
<rect x="0.5" y="0.5" width="1172" height="659" fill="none" stroke="#8e9ea8" stroke-width="1"/>
<g filter="url(#shOnly)" fill="#fff">
<g transform="translate(943.0,563) skewX(-14)">
<rect x="-1" y="13" width="12" height="7"/>
<rect x="16" y="4" width="34" height="6"/>
<rect x="12" y="15" width="7.5" height="43"/>
<rect x="39" y="15" width="9" height="43"/>
<rect x="12" y="15" width="36" height="8"/>
<rect x="6" y="33" width="46" height="7"/>
<rect x="12" y="50" width="36" height="8"/>
<polygon points="1,0 7,0 10,12 4,12"/>
<polygon points="0,60 5,60 16,40 11,37"/>
<polygon points="20,0 27,0 20,13 13,13"/>
<polygon points="30,23 35,23 38,33 33,33"/>
<polygon points="28,40 33,40 36,50 31,50"/>
</g>
<g transform="translate(1000.0,563) skewX(-14)">
<rect x="3" y="4" width="47" height="8"/>
<rect x="1" y="4" width="8" height="30"/>
<rect x="1" y="27" width="49" height="7"/>
<rect x="43" y="4" width="9" height="54"/>
<rect x="0" y="42" width="41" height="7"/>
<rect x="27" y="51" width="25" height="7"/>
</g>
<g transform="translate(1043.0,563) skewX(-14)">
<rect x="-1" y="4" width="24" height="7"/>
<rect x="-1" y="4" width="8.5" height="46"/>
<rect x="15" y="4" width="8" height="46"/>
<rect x="-1" y="44" width="24" height="6"/>
<rect x="26" y="18" width="30" height="6"/>
<rect x="34.5" y="2" width="7.5" height="50"/>
<rect x="28" y="51" width="14" height="7"/>
<polygon points="1,50 7,50 0,58 -6,58"/>
<polygon points="14,50 20,50 25,57 19,58"/>
<polygon points="37,27 43,31 30,46 25,43"/>
</g>
<g transform="translate(1100.0,563) skewX(-14)">
<rect x="26" y="2" width="32" height="6"/>
<rect x="32" y="23" width="30" height="7"/>
<rect x="44" y="23" width="7" height="35"/>
<rect x="23" y="38" width="33" height="7"/>
<rect x="24" y="51" width="46" height="7"/>
<polygon points="8,0 15,0 8,12 19,13 3,34 -4,32 8,19 0,18"/>
<polygon points="-3,38 17,30 18,36 -2,44"/>
<polygon points="-6,52 14,46 15,52 -5,58"/>
<polygon points="52,8 59,8 38,26 31,24"/>
<polygon points="38,8 44,6 66,22 60,25"/>
<polygon points="66,0 74,4 68,20 62,16"/>
</g>
</g>
<g fill="#fff" opacity="0.7">
<g transform="translate(943.0,563) skewX(-14)">
<rect x="-1" y="13" width="12" height="7"/>
<rect x="16" y="4" width="34" height="6"/>
<rect x="12" y="15" width="7.5" height="43"/>
<rect x="39" y="15" width="9" height="43"/>
<rect x="12" y="15" width="36" height="8"/>
<rect x="6" y="33" width="46" height="7"/>
<rect x="12" y="50" width="36" height="8"/>
<polygon points="1,0 7,0 10,12 4,12"/>
<polygon points="0,60 5,60 16,40 11,37"/>
<polygon points="20,0 27,0 20,13 13,13"/>
<polygon points="30,23 35,23 38,33 33,33"/>
<polygon points="28,40 33,40 36,50 31,50"/>
</g>
<g transform="translate(1000.0,563) skewX(-14)">
<rect x="3" y="4" width="47" height="8"/>
<rect x="1" y="4" width="8" height="30"/>
<rect x="1" y="27" width="49" height="7"/>
<rect x="43" y="4" width="9" height="54"/>
<rect x="0" y="42" width="41" height="7"/>
<rect x="27" y="51" width="25" height="7"/>
</g>
<g transform="translate(1043.0,563) skewX(-14)">
<rect x="-1" y="4" width="24" height="7"/>
<rect x="-1" y="4" width="8.5" height="46"/>
<rect x="15" y="4" width="8" height="46"/>
<rect x="-1" y="44" width="24" height="6"/>
<rect x="26" y="18" width="30" height="6"/>
<rect x="34.5" y="2" width="7.5" height="50"/>
<rect x="28" y="51" width="14" height="7"/>
<polygon points="1,50 7,50 0,58 -6,58"/>
<polygon points="14,50 20,50 25,57 19,58"/>
<polygon points="37,27 43,31 30,46 25,43"/>
</g>
<g transform="translate(1100.0,563) skewX(-14)">
<rect x="26" y="2" width="32" height="6"/>
<rect x="32" y="23" width="30" height="7"/>
<rect x="44" y="23" width="7" height="35"/>
<rect x="23" y="38" width="33" height="7"/>
<rect x="24" y="51" width="46" height="7"/>
<polygon points="8,0 15,0 8,12 19,13 3,34 -4,32 8,19 0,18"/>
<polygon points="-3,38 17,30 18,36 -2,44"/>
<polygon points="-6,52 14,46 15,52 -5,58"/>
<polygon points="52,8 59,8 38,26 31,24"/>
<polygon points="38,8 44,6 66,22 60,25"/>
<polygon points="66,0 74,4 68,20 62,16"/>
</g>
</g>
<g filter="url(#sh2)" font-family="Liberation Sans" font-size="33" font-weight="bold" font-style="italic" fill="#6cbcee" opacity="0.85" text-anchor="middle">
<text transform="translate(946.4,655.5) scale(1.2,1)" x="0" y="0">z</text>
<text transform="translate(974.7,655.5) scale(1.2,1)" x="0" y="0">z</text>
<text transform="translate(1002.5,655.5) scale(1.2,1)" x="0" y="0">r</text>
<text transform="translate(1024.6,655.5) scale(1.2,1)" x="0" y="0">t</text>
<text transform="translate(1047.5,655.5) scale(1.2,1)" x="0" y="0">0</text>
<text transform="translate(1078.8,655.5) scale(1.2,1)" x="0" y="0">1</text>
<text transform="translate(1100,655.5) scale(1.2,1)" x="0" y="0">.</text>
<text transform="translate(1124.2,655.5) scale(1.2,1)" x="0" y="0">c</text>
<text transform="translate(1151,655.5) scale(1.2,1)" x="0" y="0">n</text>
</g>
</svg>
</body></html>
